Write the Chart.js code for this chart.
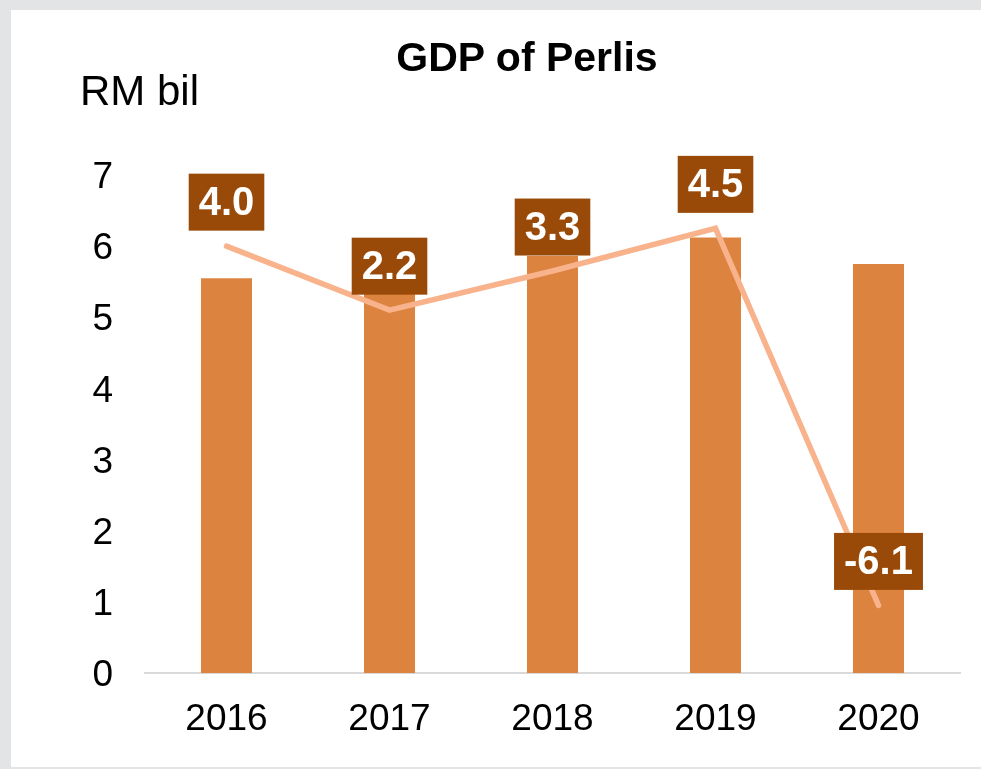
<!DOCTYPE html>
<html>
<head>
<meta charset="utf-8">
<script src="https://cdn.jsdelivr.net/npm/chart.js@4/dist/chart.umd.min.js"></script>
<style>
  html, body { margin: 0; padding: 0; background: #e3e4e6; }
  body { width: 981px; height: 769px; position: relative; overflow: hidden; font-family: 'Liberation Sans', Arial, sans-serif; }
  #panel { position: absolute; left: 11px; top: 10px; width: 970px; height: 757px; background: #fff; }
  #title { position: absolute; left: 0; top: 27px; width: 1032px; text-align: center; font-size: 41px; font-weight: bold; line-height: 41px; color: #000; }
  #unit { position: absolute; left: 69px; top: 60px; font-size: 42px; line-height: 42px; color: #000; }
  #wrap { position: absolute; left: 0; top: 0; width: 970px; height: 757px; }
</style>
</head>
<body>
<div id="panel">
  <div id="wrap"><canvas id="gdp"></canvas></div>
  <div id="title">GDP of Perlis</div>
  <div id="unit">RM bil</div>
</div>
<script>
// GDP of Perlis, RM bil (bars) and annual growth % (line)
const years = ['2016', '2017', '2018', '2019', '2020'];
const gdpValues = [5.55, 5.67, 5.86, 6.12, 5.75];
const growthValues = [4.0, 2.2, 3.3, 4.5, -6.1];
const yTicks = [0, 1, 2, 3, 4, 5, 6, 7];

const FONT = "'Liberation Sans', Arial, sans-serif";

// dark boxes with growth value above each line point
const growthLabels = {
  id: 'growthLabels',
  afterDatasetsDraw(chart) {
    const meta = chart.getDatasetMeta(1);
    const ctx = chart.ctx;
    ctx.save();
    ctx.font = `bold 40px ${FONT}`;
    ctx.textAlign = 'center';
    ctx.textBaseline = 'middle';
    meta.data.forEach((pt, i) => {
      const txt = growthValues[i].toFixed(1);
      const w = ctx.measureText(txt).width + 20;
      const h = 57;
      const cx = pt.x;
      const cy = pt.y - 44;
      ctx.fillStyle = '#9a4a08';
      ctx.fillRect(cx - w / 2, cy - h / 2, w, h);
      ctx.fillStyle = '#ffffff';
      ctx.fillText(txt, cx, cy + 2);
    });
    ctx.restore();
  }
};

new Chart(document.getElementById('gdp'), {
  data: {
    labels: years,
    datasets: [
      {
        type: 'bar',
        label: 'GDP',
        data: gdpValues,
        backgroundColor: '#dc843f',
        categoryPercentage: 1,
        barPercentage: 0.313,
        yAxisID: 'y',
        order: 1,
      },
      {
        type: 'line',
        label: 'Growth',
        data: growthValues,
        borderColor: '#f8b38c',
        borderWidth: 5.5,
        borderCapStyle: 'round',
        tension: 0,
        pointRadius: 0,
        fill: false,
        yAxisID: 'y2',
        order: 0,
      }
    ]
  },
  options: {
    responsive: true,
    maintainAspectRatio: false,
    animation: false,
    layout: { padding: { top: 165, right: 21, left: 0, bottom: 0 } },
    plugins: {
      legend: { display: false },
      tooltip: { enabled: false },
    },
    scales: {
      x: {
        grid: { display: false, drawTicks: false },
        border: { color: '#d9d9d9', width: 2 },
        ticks: { color: '#000', font: { family: FONT, size: 37 }, padding: 25 },
        afterFit: s => { s.height = 94; },
      },
      y: {
        min: 0, max: 7,
        afterBuildTicks: s => { s.ticks = yTicks.map(v => ({ value: v })); },
        grid: { display: false, drawTicks: false },
        border: { display: false },
        ticks: { color: '#000', font: { family: FONT, size: 37 }, padding: 32, labelOffset: 3 },
        afterFit: s => { s.width = 134; },
      },
      y2: {
        display: false,
        min: -8, max: 6,
      }
    }
  },
  plugins: [growthLabels]
});
</script>
</body>
</html>
